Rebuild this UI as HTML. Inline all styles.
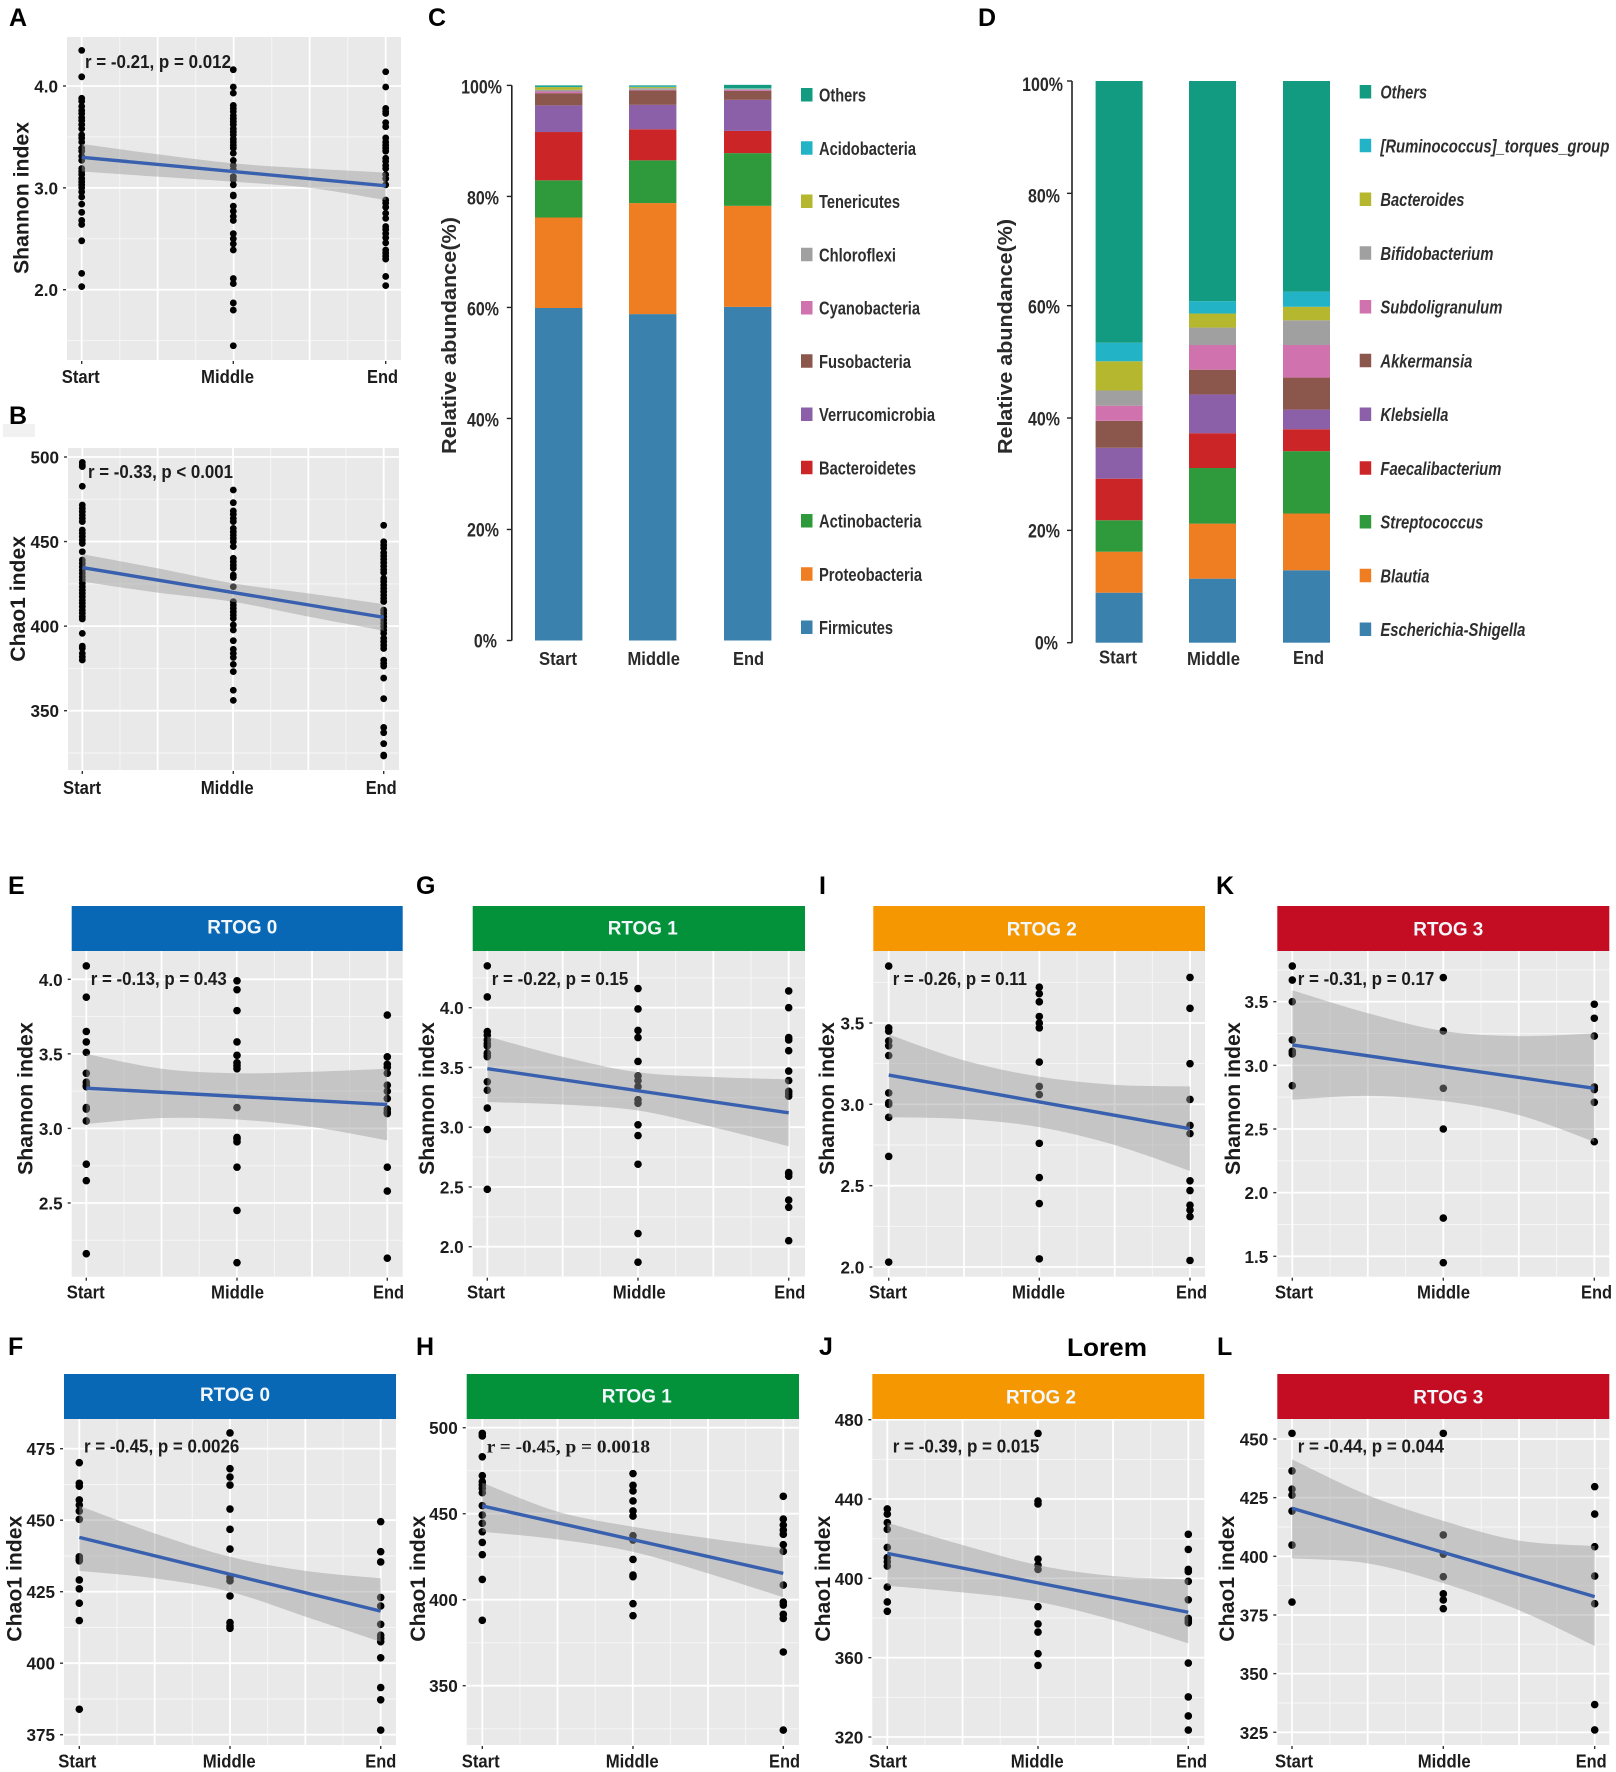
<!DOCTYPE html>
<html lang="en">
<head>
<meta charset="utf-8">
<title>Microbiome diversity and abundance figure</title>
<style>
  html, body { margin: 0; padding: 0; background: #ffffff; }
  svg { display: block; font-family: "Liberation Sans", Arial, sans-serif; }
  .letter { font-size: 25px; font-weight: bold; fill: #000; }
</style>
</head>
<body>
<svg id="figure" xmlns="http://www.w3.org/2000/svg" width="1616" height="1772" viewBox="0 0 1616 1772">
  <rect x="0" y="0" width="1616" height="1772" fill="#ffffff"/>
  <rect x="3" y="424" width="32" height="13" fill="#f1f1f1"/>
  <text class="letter" x="9" y="26">A</text>
  <text class="letter" x="9" y="424">B</text>
  <text class="letter" x="428" y="26">C</text>
  <text class="letter" x="978" y="26">D</text>
  <text class="letter" x="8" y="894">E</text>
  <text class="letter" x="8" y="1355">F</text>
  <text class="letter" x="416" y="894">G</text>
  <text class="letter" x="416" y="1355">H</text>
  <text class="letter" x="819" y="894">I</text>
  <text class="letter" x="819" y="1355">J</text>
  <text class="letter" x="1216" y="894">K</text>
  <text class="letter" x="1217" y="1355">L</text>
  <text class="letter" x="1067" y="1356" textLength="80" lengthAdjust="spacingAndGlyphs" style="font-size:25px">Lorem</text>
</svg>
<script>
const categories = ['Start', 'Middle', 'End'];
const bandX = [1, 1.5, 2, 2.5, 3];

const aTicks = ['4.0', '3.0', '2.0'];
const aStart = [4.35,4.09,3.88,3.85,3.80,3.76,3.73,3.69,3.66,3.62,3.58,3.52,3.49,3.45,3.39,3.36,3.31,3.27,3.19,3.16,3.13,3.09,3.06,3.03,3.0,2.96,2.91,2.84,2.76,2.68,2.64,2.48,2.16,2.03];
const aMiddle = [4.16,3.99,3.93,3.81,3.78,3.75,3.71,3.68,3.65,3.62,3.58,3.55,3.52,3.48,3.45,3.42,3.39,3.34,3.27,3.22,3.18,3.11,3.08,3.03,2.93,2.92,2.82,2.77,2.72,2.68,2.55,2.50,2.45,2.39,2.11,2.06,1.87,1.80,1.45];
const aEnd = [4.14,3.99,3.78,3.75,3.73,3.64,3.60,3.49,3.45,3.42,3.39,3.36,3.29,3.26,3.22,3.19,3.13,3.09,3.03,2.88,2.85,2.81,2.75,2.70,2.62,2.59,2.55,2.51,2.46,2.39,2.36,2.33,2.30,2.13,2.04];
const aLine = [3.30, 3.02];
const aUpper = [3.43,3.33,3.24,3.19,3.15];
const aLower = [3.16,3.11,3.06,3.00,2.88];

const bTicks = ['500', '450', '400', '350'];
const bStart = [496.8,495.3,494.3,482.7,471.6,469.6,467.7,465.7,463.7,461.8,456.8,454.9,452.9,450.9,448.9,444,439.1,437.1,435.1,433.2,431.2,429.2,427.3,425.3,423.3,421.3,419.4,417.4,415.4,413.5,411.5,409.5,407.6,405.6,404.2,395.7,388.2,386.9,383.9,381.9,380];
const bMiddle = [480.5,473,468.1,466.1,463.7,461.8,457.8,455.8,453.9,451.9,449.9,447,440.1,438.1,436.1,434.2,430.2,428.8,423.3,414.5,412.5,410.5,408.5,406.6,404.6,400.7,397.7,391.4,386.3,383.9,381.5,377.4,373.1,362.1,356.1];
const bEnd = [459.6,449.9,448,446,443.4,441.5,439.5,437.5,435.5,433.5,431.6,428.2,426.3,424.3,422.3,420.4,418.4,416.4,414.5,409.5,407.6,405.6,403.6,401.6,399.7,397.7,395.7,392.8,390.8,388.8,386.8,379.9,378,376.4,369.3,357.1,340.1,337,330.5,323.8,323.2];
const bLine = [434.6, 405.2];
const bUpper = [442.6,434.2,425.3,419.4,413];
const bLower = [426.3,419.8,414.4,405.6,397.3];

const eTicks = ['4.0', '3.5', '3.0', '2.5'];
const eStart = [4.09,3.88,3.65,3.58,3.51,3.37,3.31,3.29,3.28,3.14,3.13,3.05,2.76,2.65,2.16];
const eMiddle = [3.99,3.93,3.79,3.58,3.49,3.44,3.42,3.40,3.14,2.94,2.93,2.91,2.74,2.45,2.10];
const eEnd = [3.76,3.48,3.43,3.41,3.37,3.29,3.25,3.20,3.13,3.11,3.10,2.74,2.58,2.13];
const eLine = [3.27, 3.16];
const eUpper = [3.50,3.40,3.37,3.38,3.40];
const eLower = [3.03,3.07,3.06,3.01,2.92];

const gTicks = ['4.0', '3.5', '3.0', '2.5', '2.0'];
const gStart = [4.35,4.09,3.80,3.77,3.73,3.70,3.68,3.62,3.60,3.59,3.38,3.31,3.16,2.98,2.48];
const gMiddle = [4.16,3.99,3.81,3.75,3.55,3.43,3.39,3.34,3.23,3.20,3.02,2.93,2.69,2.11,1.87];
const gEnd = [4.14,4.0,3.75,3.73,3.64,3.47,3.39,3.30,3.28,3.26,2.62,2.61,2.59,2.39,2.33,2.05];
const gLine = [3.49, 3.12];
const gUpper = [3.76,3.59,3.46,3.42,3.40];
const gLower = [3.21,3.19,3.14,3.00,2.84];

const iTicks = ['3.5', '3.0', '2.5', '2.0'];
const iStart = [3.85,3.47,3.45,3.39,3.36,3.30,3.07,3.01,3.0,2.92,2.68,2.03];
const iMiddle = [3.72,3.68,3.63,3.54,3.50,3.47,3.26,3.11,3.06,2.76,2.55,2.39,2.05];
const iEnd = [3.78,3.59,3.25,3.03,2.87,2.82,2.53,2.47,2.38,2.35,2.31,2.04];
const iLine = [3.18, 2.85];
const iUpper = [3.43,3.27,3.17,3.12,3.11];
const iLower = [2.92,2.91,2.86,2.75,2.59];

const kTicks = ['3.5', '3.0', '2.5', '2.0', '1.5'];
const kStart = [3.78,3.67,3.5,3.20,3.11,3.09,2.84];
const kMiddle = [3.69,3.27,2.82,2.50,1.80,1.45];
const kEnd = [3.48,3.37,3.23,2.83,2.81,2.71,2.40];
const kLine = [3.16, 2.82];
const kUpper = [3.59,3.41,3.27,3.23,3.25];
const kLower = [2.73,2.76,2.72,2.61,2.40];

const fTicks = ['475', '450', '425', '400', '375'];
const fStart = [470.1,462.9,461.9,457.1,455.3,453.2,450.3,437.2,436.4,435.8,429.1,426,421,414.9,383.9];
const fMiddle = [480.5,468,465.1,462.3,453.9,446.8,439.9,430,428.8,423.5,414.2,413,412.2];
const fEnd = [449.5,439,435.4,423,420,413.6,409.8,408.7,407.5,401.9,391.5,387.2,376.6];
const fLine = [444, 418.2];
const fUpper = [455,445.4,437.2,432.3,429.7];
const fLower = [432.3,429.7,425,416.3,407.5];

const hTicks = ['500', '450', '400', '350'];
const hStart = [496.7,495.2,483.1,472.1,468.6,466.7,464.7,462.2,454.7,449.2,444.4,439.5,433.3,426.2,411.8,388];
const hMiddle = [473.3,466.5,463.2,457.4,451.6,448.6,437.2,434.7,423.4,414.3,413.4,397.7,390.7];
const hEnd = [460.1,446.9,443.4,440.5,438,432,428.1,408.5,398.6,396.9,391.5,389.1,369.6,324.2];
const hLine = [454.5, 415.3];
const hUpper = [468,451.2,442.4,435.7,429.8];
const hLower = [439.5,435.1,427.9,415.3,401.4];

const jTicks = ['480', '440', '400', '360', '320'];
const jStart = [435,432.4,428.1,424.7,415.6,410.4,408.4,406.2,395.6,388.1,383.4];
const jMiddle = [473.1,439,437.5,409.7,406.7,404.5,385.7,377,372.9,362,356.1];
const jEnd = [422.2,414.6,404.5,403.4,398.5,389.2,379.8,378.7,377.6,357.3,340.2,330.6,323.5];
const jLine = [412.6, 382.9];
const jUpper = [428.1,416.8,406.7,401.2,399.5];
const jLower = [396.3,392.9,388.2,379,367.2];

const lTicks = ['450', '425', '400', '375', '350', '325'];
const lStart = [452.4,436.4,428.6,426.1,419.3,404.8,380.5];
const lMiddle = [452.4,409.1,400.9,391.3,384,381.4,377.7];
const lEnd = [429.7,418,404.1,391.6,379.8,336.8,326];
const lLine = [420.5, 382.8];
const lUpper = [441.3,426.1,415.1,406.7,404.4];
const lLower = [399.1,397,388.5,377,361.8];

const percentTicks = ['0%', '20%', '40%', '60%', '80%', '100%'];
const phylumNames = ['Firmicutes','Proteobacteria','Actinobacteria','Bacteroidetes','Verrucomicrobia','Fusobacteria','Cyanobacteria','Chloroflexi','Tenericutes','Acidobacteria','Others'];
const phylumStart = [59.9,16.3,6.7,8.7,4.8,2.2,0.3,0.3,0.5,0.1,0.2];
const phylumMiddle = [58.8,20.0,7.7,5.6,4.4,2.6,0.1,0.3,0.2,0.15,0.15];
const phylumEnd = [60.1,18.2,9.5,4.0,5.6,1.6,0.2,0.15,0.05,0.1,0.6];
const genusNames = ['Escherichia-Shigella','Blautia','Streptococcus','Faecalibacterium','Klebsiella','Akkermansia','Subdoligranulum','Bifidobacterium','Bacteroides','[Ruminococcus]_torques_group','Others'];
const genusStart = [8.9,7.3,5.6,7.4,5.5,4.8,2.7,2.7,5.2,3.3,46.6];
const genusMiddle = [11.4,9.8,9.9,6.2,6.9,4.4,4.4,3.1,2.5,2.2,39.2];
const genusEnd = [12.9,10.1,11.1,3.9,3.5,5.7,5.8,4.4,2.4,2.7,37.5];
const stackColors = ['#3a82ad','#ef7d22','#2f9a3b','#cb2528','#8b60a8','#8b564b','#cf72ae','#a0a0a0','#b5b82e','#23b3c6','#129b80'];

const shannon = 'Shannon index';
const chao = 'Chao1 index';
const scatterPanels = [
  {id:'a',left:67,right:401,top:37,bottom:360,catX:[81.7,233.3,385.7],anchor:[4,86,2,289.7],r:3.4,ticks:aTicks,series:[aStart,aMiddle,aEnd],line:aLine,upper:aUpper,lower:aLower,title:shannon,titleX:28.5,titleBottom:274,titleLen:152,note:'r = -0.21, p = 0.012',noteX:85,noteY:68,noteLen:146,labelX:[61.7,201,367],labelY:383},
  {id:'b',left:68,right:399,top:448,bottom:770,catX:[82.3,233.3,383.7],anchor:[500,457,350,710.7],r:3.4,ticks:bTicks,series:[bStart,bMiddle,bEnd],line:bLine,upper:bUpper,lower:bLower,title:chao,titleX:25,titleBottom:661.7,titleLen:125.7,note:'r = -0.33, p < 0.001',noteX:88,noteY:478,noteLen:145,labelX:[63,200.7,365.7],labelY:794},
  {id:'e',left:71.7,right:402.7,top:951,bottom:1276.7,catX:[86.3,237,387.3],anchor:[4,979.3,2.5,1203],r:3.8,ticks:eTicks,series:[eStart,eMiddle,eEnd],line:eLine,upper:eUpper,lower:eLower,title:shannon,titleX:32.7,titleBottom:1175,titleLen:152.7,note:'r = -0.13, p = 0.43',noteX:90.7,noteY:985,noteLen:136,labelX:[66.7,211,373],labelY:1298.3,header:'RTOG 0',headerColor:'#0868b6',headerTop:906,headerX:207.3,headerY:933.3},
  {id:'g',left:472.7,right:805,top:951,bottom:1276.7,catX:[487.3,638,788.7],anchor:[4,1007.7,2,1246.7],r:3.8,ticks:gTicks,series:[gStart,gMiddle,gEnd],line:gLine,upper:gUpper,lower:gLower,title:shannon,titleX:434,titleBottom:1175,titleLen:152.7,note:'r = -0.22, p = 0.15',noteX:491.7,noteY:985,noteLen:136.6,labelX:[467,612.7,774.3],labelY:1298.3,header:'RTOG 1',headerColor:'#039239',headerTop:906,headerX:607.7,headerY:934.3},
  {id:'i',left:873.3,right:1205,top:951,bottom:1276.7,catX:[888.7,1039.3,1190],anchor:[3.5,1023,2,1267],r:3.8,ticks:iTicks,series:[iStart,iMiddle,iEnd],line:iLine,upper:iUpper,lower:iLower,title:shannon,titleX:834,titleBottom:1175,titleLen:152.7,note:'r = -0.26, p = 0.11',noteX:892.7,noteY:985,noteLen:134.3,labelX:[869,1012,1176],labelY:1298.3,header:'RTOG 2',headerColor:'#f59700',headerTop:906,headerX:1006.7,headerY:935.7},
  {id:'k',left:1277.3,right:1609.3,top:951,bottom:1276.7,catX:[1292.3,1443.3,1594.3],anchor:[3.5,1001.7,1.5,1256.3],r:3.8,ticks:kTicks,series:[kStart,kMiddle,kEnd],line:kLine,upper:kUpper,lower:kLower,title:shannon,titleX:1240,titleBottom:1175,titleLen:152.7,note:'r = -0.31, p = 0.17',noteX:1297.7,noteY:985,noteLen:136.6,labelX:[1275,1417,1581],labelY:1298.3,header:'RTOG 3',headerColor:'#c40c22',headerTop:906,headerX:1413.3,headerY:935.7},
  {id:'f',left:64,right:396,top:1419,bottom:1745,catX:[79.3,230,380.7],anchor:[475,1448.7,375,1734.7],r:3.8,ticks:fTicks,series:[fStart,fMiddle,fEnd],line:fLine,upper:fUpper,lower:fLower,title:chao,titleX:21.7,titleBottom:1641.7,titleLen:126,note:'r = -0.45, p = 0.0026',noteX:84,noteY:1452.3,noteLen:155.3,labelX:[58.3,202.7,365.3],labelY:1767.7,header:'RTOG 0',headerColor:'#0868b6',headerTop:1374,headerX:200,headerY:1401},
  {id:'h',left:466.7,right:799,top:1419,bottom:1745,catX:[482.3,633,783.3],anchor:[500,1427.7,350,1685.7],r:3.8,ticks:hTicks,series:[hStart,hMiddle,hEnd],line:hLine,upper:hUpper,lower:hLower,title:chao,titleX:425,titleBottom:1641.7,titleLen:126,note:'r = -0.45, p = 0.0018',noteX:486.7,noteY:1452.3,noteLen:163.3,noteSerif:true,labelX:[461.7,605.7,769],labelY:1767.7,header:'RTOG 1',headerColor:'#039239',headerTop:1374,headerX:601.7,headerY:1402.3},
  {id:'j',left:872.3,right:1204.3,top:1419,bottom:1745,catX:[887.3,1038,1188.3],anchor:[480,1419.7,320,1737],r:3.8,ticks:jTicks,series:[jStart,jMiddle,jEnd],line:jLine,upper:jUpper,lower:jLower,title:chao,titleX:830,titleBottom:1641.7,titleLen:126,note:'r = -0.39, p = 0.015',noteX:892.7,noteY:1452.3,noteLen:146.6,labelX:[869,1010.7,1176],labelY:1767.7,header:'RTOG 2',headerColor:'#f59700',headerTop:1374,headerX:1006,headerY:1403.7},
  {id:'l',left:1277.3,right:1609.3,top:1419,bottom:1745,catX:[1292,1443.3,1594.7],anchor:[450,1439,325,1732.3],r:3.8,ticks:lTicks,series:[lStart,lMiddle,lEnd],line:lLine,upper:lUpper,lower:lLower,title:chao,titleX:1234,titleBottom:1641.7,titleLen:126,note:'r = -0.44, p = 0.044',noteX:1297.7,noteY:1452.3,noteLen:146.3,labelX:[1275,1417.7,1575.7],labelY:1767.7,header:'RTOG 3',headerColor:'#c40c22',headerTop:1374,headerX:1413.3,headerY:1403.7}
];

const stackPanels = [
  {id:'c',axisX:511.8,y0:640.5,y100:85.4,barLeft:[535,629,724],barWidth:47.4,series:[phylumStart,phylumMiddle,phylumEnd],names:phylumNames,labelRight:499,tickShift:[-1,-1,0,0,0,0],
   title:'Relative abundance(%)',titleX:456,titleBottom:454,titleLen:237,labelX:[539,627.5,733],labelLen:[38,52.5,31],labelY:[665,665,665],
   legendSwatchX:801,legendTextX:819,legendTop:94.5,legendBottom:627,legendItalic:false,legendLens:[74,103,102.5,97,116,92,101,77,81,97,47]},
  {id:'d',axisX:1072,y0:642.7,y100:81,barLeft:[1095.6,1189,1283],barWidth:47,series:[genusStart,genusMiddle,genusEnd],names:genusNames,labelRight:1060,tickShift:[-1,-1,-0.5,0,1,2],
   title:'Relative abundance(%)',titleX:1012,titleBottom:454,titleLen:235,labelX:[1099,1187,1293],labelLen:[38,53,31],labelY:[663.5,665,664],
   legendSwatchX:1359.7,legendTextX:1380.4,legendTop:91.5,legendBottom:629,legendItalic:true,legendLens:[145,49,103,121,68,92,122,113,84,229,46.6]}
];

const SVGNS = 'http://www.w3.org/2000/svg';
const root = document.getElementById('figure');

function make(tag, attrs, parent) {
  const node = document.createElementNS(SVGNS, tag);
  for (const key in attrs) node.setAttribute(key, attrs[key]);
  parent.appendChild(node);
  return node;
}

function label(parent, str, x, y, size, opts) {
  const o = opts || {};
  const attrs = {
    'font-size': size,
    'font-weight': o.weight || 'bold',
    fill: o.fill || '#1c1c1c',
    'text-anchor': o.anchor || 'start'
  };
  if (o.italic) attrs['font-style'] = 'italic';
  if (o.serif) attrs['font-family'] = '"Liberation Serif", serif';
  if (o.len) {
    attrs.textLength = o.len;
    attrs.lengthAdjust = 'spacingAndGlyphs';
  }
  const rotation = o.rotate ? ' rotate(-90)' : '';
  const squeeze = o.sx ? ' scale(' + o.sx + ',1)' : '';
  attrs.transform = 'translate(' + x + ',' + y + ')' + rotation + squeeze;
  const node = make('text', attrs, parent);
  node.textContent = str;
  return node;
}

function curve(pts) {
  let d = '';
  for (let i = 0; i < pts.length - 1; i++) {
    const p0 = pts[Math.max(i - 1, 0)];
    const p1 = pts[i];
    const p2 = pts[i + 1];
    const p3 = pts[Math.min(i + 2, pts.length - 1)];
    const c1x = p1[0] + (p2[0] - p0[0]) / 6;
    const c1y = p1[1] + (p2[1] - p0[1]) / 6;
    const c2x = p2[0] - (p3[0] - p1[0]) / 6;
    const c2y = p2[1] - (p3[1] - p1[1]) / 6;
    d += 'C' + c1x + ' ' + c1y + ' ' + c2x + ' ' + c2y + ' ' + p2[0] + ' ' + p2[1];
  }
  return d;
}

function drawScatter(p) {
  const g = make('g', {}, root);
  
  

  const k = (p.anchor[3] - p.anchor[1]) / (p.anchor[2] - p.anchor[0]);
  const yScale = function (v) { return p.anchor[1] + (v - p.anchor[0]) * k; };
  const xScale = function (x) { return p.catX[0] + (x - 1) * (p.catX[2] - p.catX[0]) / 2; };

  const bg = make('rect', {x: p.left, y: p.top, width: p.right - p.left, height: p.bottom - p.top, fill: '#e9e9e9'}, g);
  
  

  const tickValues = p.ticks.map(Number);
  const step = tickValues[1] - tickValues[0];
  for (let m = -3; m < tickValues.length + 3; m++) {
    const v = tickValues[0] + (m + 0.5) * step;
    const py = yScale(v);
    if (py <= p.top || py >= p.bottom) continue;
    const minorY = make('line', {x1: p.left, x2: p.right, y1: py, y2: py, stroke: '#f6f6f6', 'stroke-width': 1}, g);
    
    
  }
  [1.25, 1.75, 2.25, 2.75].forEach(function (x) {
    const minorX = make('line', {x1: xScale(x), x2: xScale(x), y1: p.top, y2: p.bottom, stroke: '#f6f6f6', 'stroke-width': 1}, g);
    
    
  });
  [1, 1.5, 2, 2.5, 3].forEach(function (x) {
    const majorX = make('line', {x1: xScale(x), x2: xScale(x), y1: p.top, y2: p.bottom, stroke: '#ffffff', 'stroke-width': 1.8}, g);
    
    
  });
  tickValues.forEach(function (v, i) {
    const py = yScale(v);
    const majorY = make('line', {x1: p.left, x2: p.right, y1: py, y2: py, stroke: '#ffffff', 'stroke-width': 1.8}, g);
    
    
    const tick = make('line', {x1: p.left - 4, x2: p.left - 1, y1: py, y2: py, stroke: '#333333', 'stroke-width': 1.4}, g);
    
    
    const tl = label(g, p.ticks[i], p.left - 9, py + 6.5, 18, {anchor: 'end', sx: 0.95});
    
    
  });

  p.series.forEach(function (values, c) {
    values.forEach(function (v) {
      const dot = make('circle', {cx: p.catX[c], cy: yScale(v), r: p.r, fill: '#000000'}, g);
      
      
    });
  });

  const upperPts = bandX.map(function (x, i) { return [xScale(x), yScale(p.upper[i])]; });
  const lowerPts = bandX.map(function (x, i) { return [xScale(x), yScale(p.lower[i])]; }).reverse();
  const bandPath = 'M' + upperPts[0][0] + ' ' + upperPts[0][1] + curve(upperPts) + 'L' + lowerPts[0][0] + ' ' + lowerPts[0][1] + curve(lowerPts) + 'Z';
  const band = make('path', {d: bandPath, fill: '#999999', 'fill-opacity': 0.45}, g);
  
  

  const fit = make('line', {x1: xScale(1), y1: yScale(p.line[0]), x2: xScale(3), y2: yScale(p.line[1]), stroke: '#3860ae', 'stroke-width': 3.4}, g);
  
  

  if (p.header) {
    const strip = make('rect', {x: p.left, y: p.headerTop, width: p.right - p.left, height: p.top - p.headerTop, fill: p.headerColor}, g);
    
    
    const stripText = label(g, p.header, p.headerX, p.headerY, 19, {fill: '#f2f7fb', len: 70});
    
    
  }

  categories.forEach(function (name, c) {
    const tick = make('line', {x1: p.catX[c], x2: p.catX[c], y1: p.bottom + 1, y2: p.bottom + 4, stroke: '#333333', 'stroke-width': 1.4}, g);
    
    
    const widths = [38, 53, 31];
    const tl = label(g, name, p.labelX[c], p.labelY, 18, {len: widths[c]});
    
    
  });

  const title = label(g, p.title, p.titleX, p.titleBottom, 21, {rotate: true, len: p.titleLen});
  
  

  const note = label(g, p.note, p.noteX, p.noteY, 18, {len: p.noteLen, serif: p.noteSerif});
  
  
}

function drawStack(p) {
  const g = make('g', {}, root);
  
  

  const yScale = function (pct) { return p.y0 + (p.y100 - p.y0) * pct / 100; };

  const axis = make('line', {x1: p.axisX, x2: p.axisX, y1: p.y100, y2: p.y0, stroke: '#222222', 'stroke-width': 1.6}, g);
  
  

  percentTicks.forEach(function (tickLabel, i) {
    const pct = parseFloat(tickLabel);
    const py = yScale(pct);
    const tick = make('line', {x1: p.axisX - 5, x2: p.axisX, y1: py, y2: py, stroke: '#222222', 'stroke-width': 1.4}, g);
    
    
    const nudge = tickLabel === '100%' ? 3 : (tickLabel === '0%' ? -2 : 0);
    const tl = label(g, tickLabel, p.labelRight + nudge, py + 8 + p.tickShift[i], 19, {anchor: 'end', sx: 0.84, fill: '#2a2a2a'});
    
    
  });

  p.series.forEach(function (values, c) {
    let running = 0;
    values.forEach(function (v, s) {
      const yTop = yScale(running + v);
      const yBottom = yScale(running);
      const bar = make('rect', {x: p.barLeft[c], y: yTop, width: p.barWidth, height: yBottom - yTop, fill: stackColors[s]}, g);
      
      
      running += v;
    });
    const tl = label(g, categories[c], p.labelX[c], p.labelY[c], 18, {len: p.labelLen[c], fill: '#2a2a2a'});
    
    
  });

  const title = label(g, p.title, p.titleX, p.titleBottom, 20, {rotate: true, len: p.titleLen, fill: '#2a2a2a'});
  
  

  const n = p.names.length;
  const pitch = (p.legendBottom - p.legendTop) / (n - 1);
  p.names.forEach(function (name, s) {
    const cy = p.legendBottom - s * pitch;
    const swatch = make('rect', {x: p.legendSwatchX, y: cy - 6.5, width: 11.5, height: 13.5, fill: stackColors[s]}, g);
    
    
    const entry = label(g, name, p.legendTextX, cy + 7, 18, {len: p.legendLens[s], italic: p.legendItalic, fill: '#2e2e2e'});
    
    
  });
}

scatterPanels.forEach(drawScatter);
stackPanels.forEach(drawStack);
</script>
</body>
</html>
